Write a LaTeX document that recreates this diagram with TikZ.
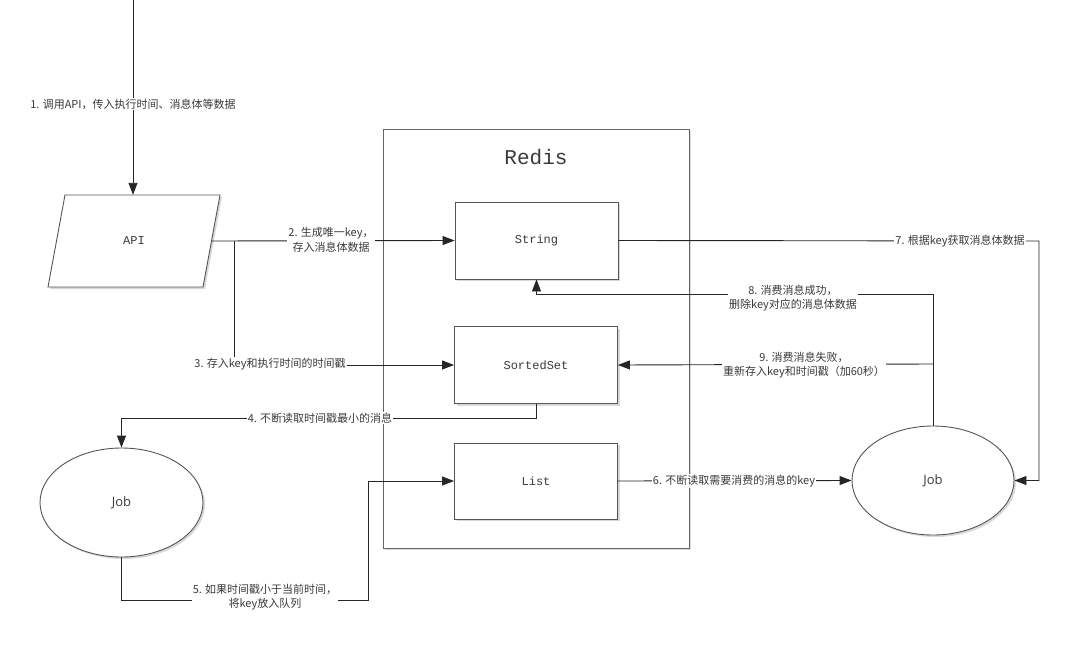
\documentclass[tikz,border=0pt]{standalone}
\usepackage{fontspec}
\newfontfamily\cjk{Noto Sans CJK SC}
\newfontfamily\monof{Liberation Mono}
\newfontfamily\jobf{Open Sans}
\usetikzlibrary{arrows.meta,shapes.geometric,shadows}
\definecolor{ln}{HTML}{262626}
\definecolor{tx}{HTML}{3A3A3A}
\definecolor{bx}{HTML}{555555}
\tikzset{
  arr/.style={draw=ln, line width=0.9pt, -{Triangle[length=12pt,width=9pt]}},
  lbl/.style={fill=white, inner sep=1.2pt, text=tx, align=center,
    font=\cjk\fontsize{11}{14.5}\selectfont},
  boxn/.style={draw=bx, line width=0.9pt, fill=white, minimum width=163pt,
    minimum height=77pt, text=tx, font=\monof\fontsize{12}{14}\selectfont,
    drop shadow={shadow xshift=2pt, shadow yshift=-2pt, opacity=0.3}},
  jobn/.style={ellipse, draw=bx, line width=0.9pt, fill=white, minimum width=162pt,
    minimum height=109pt, inner sep=0pt, text=tx, font=\jobf\fontsize{13}{15}\selectfont,
    drop shadow={shadow xshift=2pt, shadow yshift=-2pt, opacity=0.3}}
}
\begin{document}
\begin{tikzpicture}[x=1pt,y=-1pt]
\useasboundingbox (0,0) rectangle (1080,651);
% Redis container
\node[draw=gray!80!black, line width=0.9pt, fill=white, minimum width=306pt, minimum height=419pt,
  drop shadow={shadow xshift=2pt, shadow yshift=-2pt, opacity=0.3}] (redis) at (536,338.5) {};
\node[text=tx, font=\monof\fontsize{21}{24}\selectfont] (redistitle) at (536,157) {Redis};
% boxes
\node[boxn] (str) at (536.5,240.5) {String};
\node[boxn] (sset) at (536,365) {SortedSet};
\node[boxn, minimum height=76pt] (lst) at (536,481) {List};
% API parallelogram
\draw[draw=bx, line width=0.9pt, fill=white,
  drop shadow={shadow xshift=2pt, shadow yshift=-2pt, opacity=0.3}]
  (65,195) -- (220,195) -- (203,287) -- (48,287) -- cycle;
\node[minimum width=155pt, minimum height=92pt, inner sep=0pt, text=tx,
  font=\monof\fontsize{12}{14}\selectfont] (api) at (134,241) {API};
% Jobs
\node[jobn, minimum width=163pt] (jobL) at (121.5,502.5) {Job};
\node[jobn] (jobR) at (933,480.5) {Job};
% coordinates
\coordinate (top) at (133,0);
\coordinate (b3) at (234,241);
\coordinate (c4) at (536,418);
\coordinate (c5a) at (121.5,600);
\coordinate (c5b) at (368,600);
\coordinate (c7) at (1039,241);
\coordinate (c8) at (933,294);
\coordinate (c9) at (933,364);
% 1
\draw[arr] (top) -- (top |- api.north);
\node[lbl] (l1) at (133,104) {1. 调用API，传入执行时间、消息体等数据};
% 2
\draw[arr] (api.east) -- (str.west);
\node[lbl] (l2) at (331,240) {2. 生成唯一key，\\存入消息体数据};
% 3
\draw[arr] (b3) |- (sset.west);
\node[lbl] (l3) at (270,364) {3. 存入key和执行时间的时间戳};
% 4
\draw[arr] (sset.south) -- (c4) -| (jobL.north);
\node[lbl] (l4) at (320,418) {4. 不断读取时间戳最小的消息};
% 5
\draw[arr] (jobL.south) -- (c5a) -- (c5b) |- (lst.west);
\node[lbl] (l5) at (265,597) {5. 如果时间戳小于当前时间，\\将key放入队列};
% 6
\draw[arr] (lst.east) -- (jobR.west);
\node[lbl] (l6) at (734,481) {6. 不断读取需要消费的消息的key};
% 7
\draw[arr] (str.east) -- (c7) |- (jobR.east);
\node[lbl] (l7) at (960,241) {7. 根据key获取消息体数据};
% 8
\draw[arr] (jobR.north) -- (c8) -| (str.south);
\node[lbl] (l8) at (793,298) {8. 消费消息成功，\\删除key对应的消息体数据};
% 9
\draw[arr] (c9) -- (sset.east);
\node[lbl] (l9) at (804,365) {9. 消费消息失败，\\重新存入key和时间戳（加60秒）};
\end{tikzpicture}
\end{document}
